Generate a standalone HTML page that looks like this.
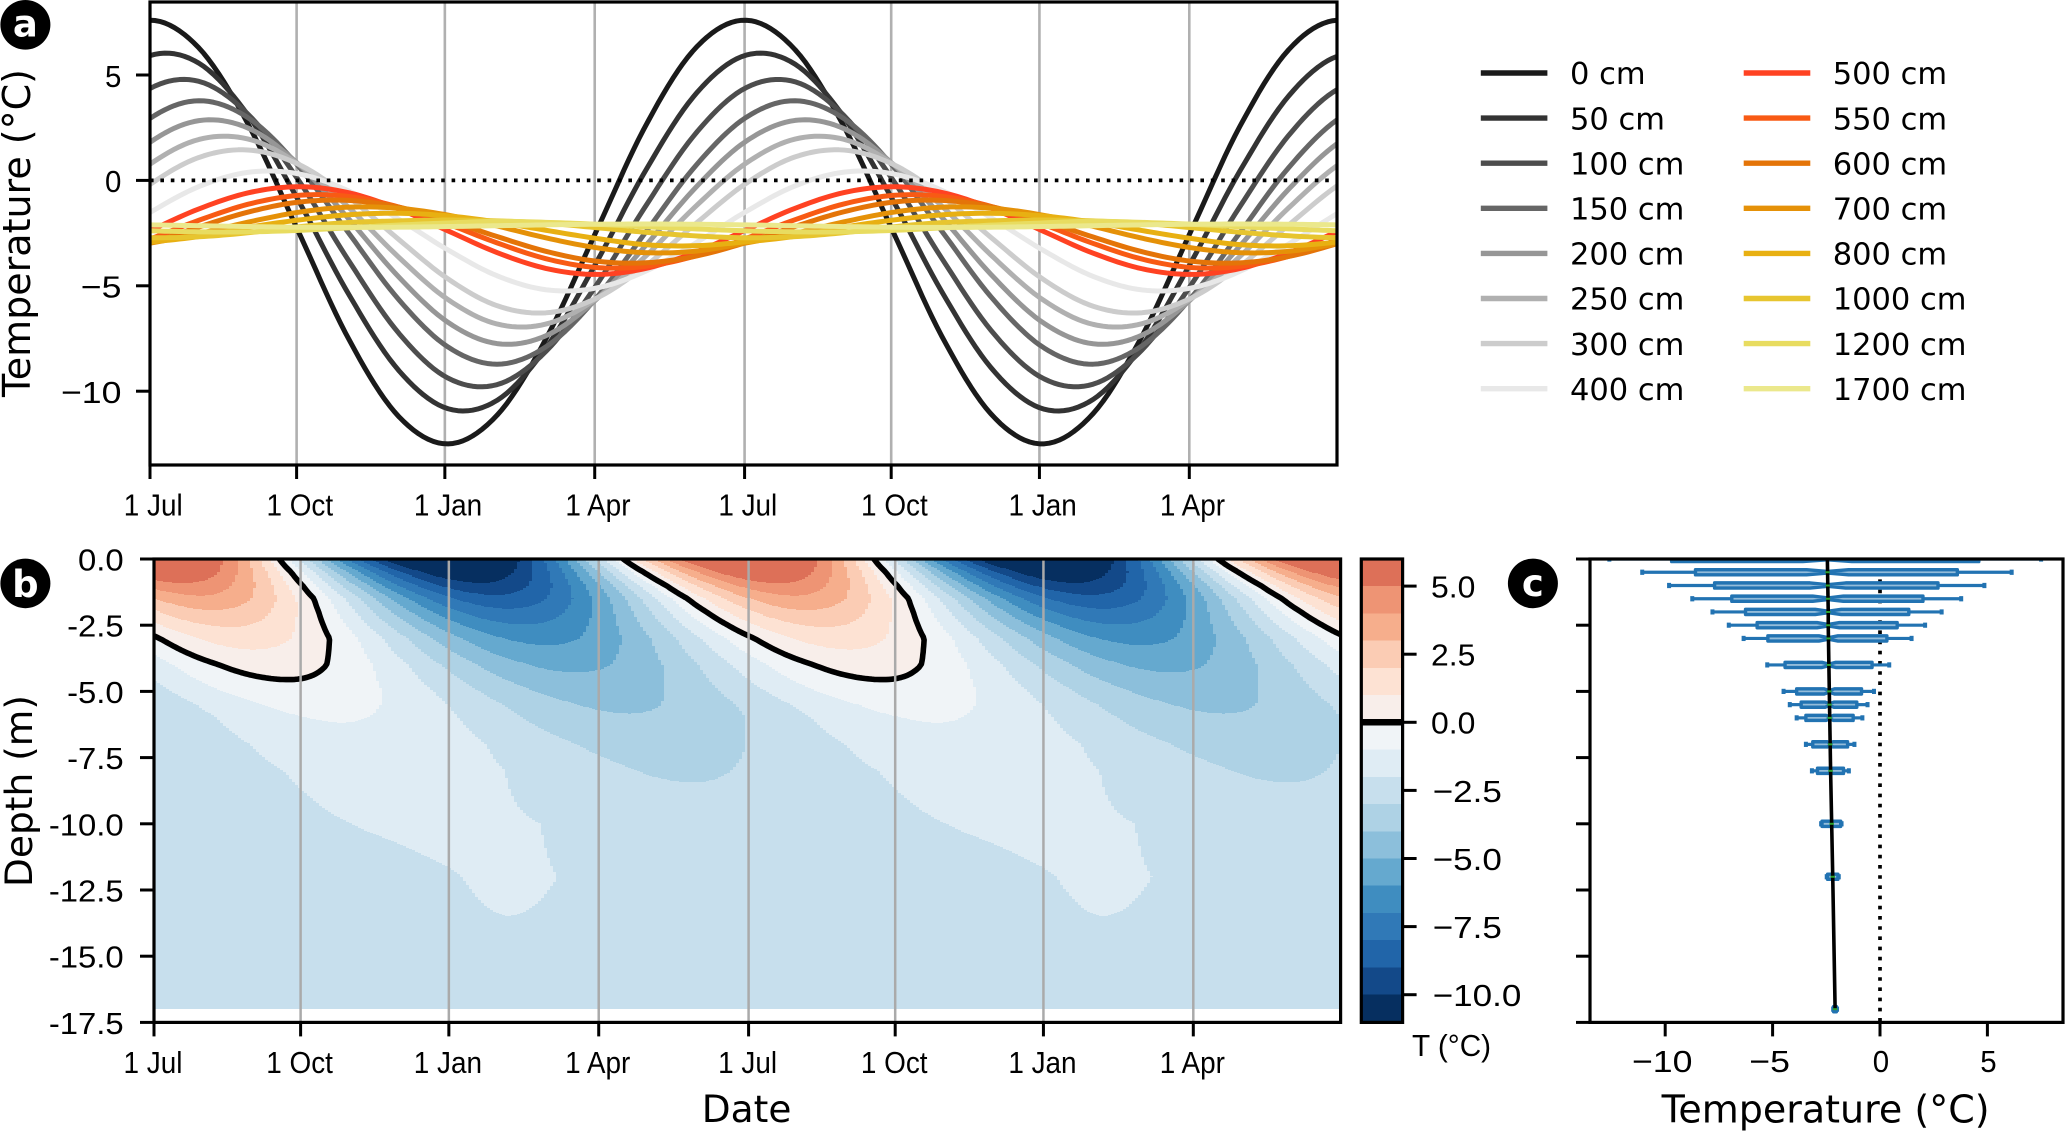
<!DOCTYPE html>
<html lang="en">
<head>
<meta charset="utf-8">
<title>Soil temperature by depth</title>
<style>
html,body{margin:0;padding:0;background:#fff;}
svg{display:block;}
.title{font-family:"DejaVu Sans",sans-serif;font-size:37.5px;fill:#000;}
.title-wide{font-family:"DejaVu Sans",sans-serif;font-size:38px;fill:#000;}
.legend{font-family:"DejaVu Sans",sans-serif;font-size:30.5px;fill:#000;}
.tick{font-family:"Liberation Sans",sans-serif;font-size:31px;fill:#000;}
.badge{font-family:"DejaVu Sans",sans-serif;font-size:37px;font-weight:bold;fill:#fff;text-anchor:middle;}
</style>
</head>
<body>
<svg id="chart" xmlns="http://www.w3.org/2000/svg" width="2067" height="1132" viewBox="0 0 2067 1132">
  <defs>
    <clipPath id="clip-a"><rect x="150" y="2" width="1187" height="463"/></clipPath>
    <clipPath id="clip-b"><rect x="154" y="559" width="1186.6" height="463.4"/></clipPath>
    <clipPath id="clip-c"><rect x="1590" y="559" width="473" height="463.4"/></clipPath>
  </defs>
  <rect x="0" y="0" width="2067" height="1132" fill="#fff"/>

  <g id="panel-a">
    <g id="a-grid"></g>
    <g id="a-lines" clip-path="url(#clip-a)"></g>
    <line id="a-zero" x1="150" x2="1337" stroke="#000" stroke-width="3.7" stroke-dasharray="3.6 6.8"/>
    <g id="a-axes"></g>
    <rect x="150" y="2" width="1187" height="463" fill="none" stroke="#000" stroke-width="3.2"/>
  </g>
  <text class="title-wide" transform="translate(30 233) rotate(-90)" text-anchor="middle">Temperature (°C)</text>
  <g id="legend"></g>

  <g id="panel-b">
    <g id="b-bands" clip-path="url(#clip-b)"></g>
    <path id="b-zero" clip-path="url(#clip-b)" fill="none" stroke="#000" stroke-width="5.6" stroke-linecap="round"/>
    <g id="b-grid"></g>
    <g id="b-axes"></g>
    <rect x="154" y="559" width="1186.6" height="463.4" fill="none" stroke="#000" stroke-width="3.2"/>
  </g>
  <text class="title" transform="translate(32 791) rotate(-90)" text-anchor="middle">Depth (m)</text>
  <text class="title" x="746.6" y="1122" text-anchor="middle">Date</text>

  <g id="colorbar"></g>
  <text class="tick" transform="translate(1412 1056) scale(0.96 1)">T (°C)</text>

  <g id="panel-c">
    <line id="c-zero" y1="559" y2="1022.4" stroke="#000" stroke-width="3.7" stroke-dasharray="3.6 6.6"/>
    <g id="c-boxes" clip-path="url(#clip-c)"></g>
    <path id="c-mean" fill="none" stroke="#000" stroke-width="3.6" clip-path="url(#clip-c)"/>
    <g id="c-medians" clip-path="url(#clip-c)"></g>
    <g id="c-axes"></g>
    <rect x="1590" y="559" width="473" height="463.4" fill="none" stroke="#000" stroke-width="3.2"/>
  </g>
  <text class="title-wide" x="1825.6" y="1122.5" text-anchor="middle">Temperature (°C)</text>

  <ellipse cx="25.4" cy="24.8" rx="25" ry="24.8" fill="#000"/>
  <text class="badge" x="25.4" y="36.5">a</text>
  <ellipse cx="25.4" cy="583.4" rx="25" ry="24.8" fill="#000"/>
  <text class="badge" x="25.4" y="597">b</text>
  <ellipse cx="1532.9" cy="583.4" rx="25" ry="24.8" fill="#000"/>
  <text class="badge" x="1532.9" y="596">c</text>
</svg>

<script>
// ---- Chart data: monthly temperature (°C) across one year from 1 Jul, one array per depth ----
const t0cm    = [7.6,6.25,2.58,-2.45,-7.48,-11.15,-12.5,-11.15,-7.48,-2.45,2.58,6.25];
const t50cm   = [5.92,5.54,3.02,-0.97,-5.36,-8.96,-10.82,-10.44,-7.92,-3.93,0.46,4.06];
const t100cm  = [4.36,4.69,3.09,0,-3.77,-7.19,-9.36,-9.69,-8.09,-5.0,-1.23,2.19];
const t150cm  = [2.94,3.78,2.94,0.66,-2.47,-5.6,-7.88,-8.72,-7.88,-5.6,-2.47,0.66];
const t200cm  = [1.81,2.84,2.46,0.76,-1.8,-4.53,-6.71,-7.74,-7.36,-5.66,-3.1,-0.37];
const t250cm  = [0.77,1.95,1.95,0.77,-1.26,-3.6,-5.63,-6.81,-6.81,-5.63,-3.6,-1.26];
const t300cm  = [-0.19,1.1,1.44,0.76,-0.78,-2.76,-4.65,-5.94,-6.28,-5.6,-4.06,-2.08];
const t400cm  = [-1.52,-0.28,0.39,0.31,-0.49,-1.81,-3.28,-4.52,-5.19,-5.11,-4.31,-2.99];
const t500cm  = [-2.38,-1.34,-0.58,-0.3,-0.58,-1.34,-2.38,-3.42,-4.18,-4.46,-4.18,-3.42];
const t550cm  = [-2.78,-1.88,-1.12,-0.71,-0.76,-1.25,-2.06,-2.96,-3.72,-4.13,-4.08,-3.59];
const t600cm  = [-2.97,-2.2,-1.49,-1.03,-0.95,-1.26,-1.89,-2.66,-3.37,-3.83,-3.91,-3.6];
const t700cm  = [-2.98,-2.52,-1.97,-1.51,-1.27,-1.32,-1.64,-2.16,-2.73,-3.19,-3.43,-3.36];
const t800cm  = [-2.92,-2.66,-2.22,-1.88,-1.63,-1.56,-1.68,-1.97,-2.37,-2.75,-3.05,-3.1];
const t1000cm = [-2.72,-2.67,-2.48,-2.2,-2.0,-1.92,-1.88,-1.92,-2.03,-2.24,-2.46,-2.63];
const t1200cm = [-2.39,-2.44,-2.44,-2.37,-2.25,-2.12,-2.02,-1.94,-1.99,-2.08,-2.2,-2.3];
const t1700cm = [-2.11,-2.15,-2.19,-2.22,-2.23,-2.22,-2.19,-2.15,-2.11,-2.08,-2.07,-2.08];
const allSeries = [t0cm,t50cm,t100cm,t150cm,t200cm,t250cm,t300cm,t400cm,t500cm,t550cm,t600cm,t700cm,t800cm,t1000cm,t1200cm,t1700cm];
const depthsM = [0,0.5,1,1.5,2,2.5,3,4,5,5.5,6,7,8,10,12,17];
const depthLabels = ["0 cm","50 cm","100 cm","150 cm","200 cm","250 cm","300 cm","400 cm","500 cm","550 cm","600 cm","700 cm","800 cm","1000 cm","1200 cm","1700 cm"];
const lineColors = ["#1a1a1a","#333333","#4d4d4d","#666666","#969696","#b0b0b0","#cccccc","#e8e8e8","#ff4222","#f85a14","#e47408","#e59108","#e8b012","#e7c52f","#e8dc60","#ebe88c"];

// Axis ticks
const dateTickDays = [0,90,181,273,365,455,546,638];
const dateTickLabels = ["1 Jul","1 Oct","1 Jan","1 Apr","1 Jul","1 Oct","1 Jan","1 Apr"];
const tempTicksA = [5,0,-5,-10];
const depthTicks = [0,2.5,5,7.5,10,12.5,15,17.5];
const depthTickLabels = ["0.0","-2.5","-5.0","-7.5","-10.0","-12.5","-15.0","-17.5"];
const tempTicksC = [-10,-5,0,5];
const colorbarTicks = [5,2.5,0,-2.5,-5,-7.5,-10];
const colorbarTickLabels = ["5.0","2.5","0.0","−2.5","−5.0","−7.5","−10.0"];

// Contour levels (°C) and the colour of each band, coldest first
const levels = [-11,-10,-9,-8,-7,-6,-5,-4,-3,-2,-1,0,1,2,3,4,5,6];
const bandColors = ["#062f60","#134989","#2165a9","#3079b7","#3f8dc0","#65a9cf","#8cbfdb","#aed2e5","#c7dfed","#dfecf4","#f0f4f7","#f8eeea","#fde2d3","#fbccb4","#f6ae8c","#ee9474","#dd7058"];

// Box plot statistics per depth
const whiskerLow  = [-12.6,-11.07,-9.82,-8.74,-7.8,-7.04,-6.35,-5.25,-4.49,-4.2,-3.88,-3.45,-3.17,-2.74,-2.48,-2.18];
const boxQ1       = [-9.7,-8.59,-7.7,-6.9,-6.26,-5.72,-5.22,-4.42,-3.88,-3.67,-3.45,-3.13,-2.91,-2.7,-2.44,-2.16];
const boxMedian   = [-2.45,-2.44,-2.43,-2.42,-2.41,-2.41,-2.4,-2.38,-2.36,-2.35,-2.34,-2.32,-2.3,-2.25,-2.2,-2.09];
const boxQ3       = [4.6,3.6,2.7,2.0,1.34,0.8,0.32,-0.37,-0.86,-1.08,-1.25,-1.51,-1.7,-1.83,-1.96,-2.03];
const whiskerHigh = [7.5,6.13,4.86,3.78,2.87,2.1,1.47,0.43,-0.28,-0.58,-0.82,-1.19,-1.45,-1.79,-1.92,-2.0];
const meanProfile = [-2.45,-2.44,-2.43,-2.42,-2.41,-2.41,-2.4,-2.38,-2.36,-2.35,-2.34,-2.32,-2.3,-2.25,-2.2,-2.09];

// ---- Axis functions ----
const xA = d => 150 + 1.629 * d;
const yA = t => 180.4 - 21.08 * t;
const xB = d => 154 + 1.629 * d;
const yB = z => 559 + 26.48 * z;
const xC = t => 1880 + 21.48 * t;
const yBar = t => 722.3 - 27.24 * t;

const NS = "http://www.w3.org/2000/svg";
function make(tag, attrs, parent, name) {
  const el = document.createElementNS(NS, tag);
  for (const k in attrs) el.setAttribute(k, attrs[k]);
  
  
  parent.appendChild(el);
  return el;
}
function label(str, x, y, anchor, sx, parent, name) {
  const t = make("text", {class:"tick", transform:`translate(${x} ${y}) scale(${sx} 1)`, "text-anchor":anchor}, parent, name);
  t.textContent = str;
  return t;
}
const $ = id => document.getElementById(id);

// Periodic Catmull-Rom through a year of monthly samples
function tempAt(s, day) {
  const n = s.length, u = day / 365 * n, i = Math.floor(u), f = u - i;
  const g = k => s[((i + k) % n + n) % n];
  const p0 = g(-1), p1 = g(0), p2 = g(1), p3 = g(2);
  return 0.5 * (2*p1 + (p2-p0)*f + (2*p0-5*p1+4*p2-p3)*f*f + (3*p1-p0-3*p2+p3)*f*f*f);
}
function fieldAt(columnTemps, z) {
  let j = 0;
  while (j < depthsM.length - 2 && z > depthsM[j+1]) j++;
  const w = (z - depthsM[j]) / (depthsM[j+1] - depthsM[j]);
  return columnTemps[j] * (1 - w) + columnTemps[j+1] * w;
}

// ---- Panel a ----
dateTickDays.forEach((d, i) => {
  make("line", {x1:xA(d), x2:xA(d), y1:2, y2:465, stroke:"#b0b0b0", "stroke-width":2.6}, $("a-grid"), "panel-a-gridline");
  make("line", {x1:xA(d), x2:xA(d), y1:465, y2:479, stroke:"#000", "stroke-width":3}, $("a-axes"), "panel-a-x-tick");
  label(dateTickLabels[i], xA(d) + 3.2, 515.5, "middle", 0.9, $("a-axes"), "panel-a-x-tick-label");
});
tempTicksA.forEach(t => {
  make("line", {x1:136, x2:150, y1:yA(t), y2:yA(t), stroke:"#000", "stroke-width":3}, $("a-axes"), "panel-a-y-tick");
  label(String(t).replace("-", "−"), 121.4, yA(t) + 11.8, "end", t < 0 ? 1.15 : 0.95, $("a-axes"), "panel-a-y-tick-label");
});
allSeries.forEach((s, i) => {
  let d = "";
  for (let day = 0; day <= 732; day += 3) {
    d += (day ? "L" : "M") + xA(day).toFixed(1) + " " + yA(tempAt(s, day)).toFixed(2);
  }
  make("path", {d:d, fill:"none", stroke:lineColors[i], "stroke-width":5, "stroke-linejoin":"round"}, $("a-lines"), "line-" + depthLabels[i].replace(" ", "-"));
});
$("a-zero").setAttribute("y1", yA(0));
$("a-zero").setAttribute("y2", yA(0));

// ---- Legend ----
depthLabels.forEach((txt, i) => {
  const col = i < 8 ? 0 : 1, row = i % 8;
  const y = 73 + row * 45.1;
  const x0 = col ? 1743.7 : 1480.8;
  const tx = col ? 1832.7 : 1570;
  const g = make("g", {}, $("legend"), "legend-entry");
  make("line", {x1:x0, x2:x0 + 66.6, y1:y, y2:y, stroke:lineColors[i], "stroke-width":5.4}, g, "legend-swatch");
  const t = make("text", {class:"legend", x:tx, y:y + 11.2}, g, "legend-label");
  t.textContent = txt;
});

// ---- Panel b: filled contours from the same depth series ----
const dataBottom = yB(depthsM[depthsM.length - 1]);
const bandPaths = bandColors.map(() => "");
const colStep = 3, rightEdge = 1340.6;
for (let x = 154; x < rightEdge; x += colStep) {
  const day = (x + colStep / 2 - 154) / 1.629;
  const col = allSeries.map(s => tempAt(s, day));
  let runStart = 559, runBand = -1;
  for (let y = 559; y < dataBottom; y += 1) {
    const T = fieldAt(col, (y + 0.5 - 559) / 26.48);
    const b = Math.max(0, Math.min(bandColors.length - 1, Math.floor(T) - levels[0]));
    if (b !== runBand) {
      if (runBand >= 0) bandPaths[runBand] += `M${x} ${runStart}h${colStep}v${y - runStart}h-${colStep}z`;
      runBand = b; runStart = y;
    }
  }
  if (runBand >= 0) bandPaths[runBand] += `M${x} ${runStart}h${colStep}v${Math.round(dataBottom) - runStart}h-${colStep}z`;
}
bandPaths.forEach((d, i) => {
  if (d) make("path", {d:d, fill:bandColors[i], "shape-rendering":"crispEdges"}, $("b-bands"), "contour-band-" + levels[i] + "-to-" + levels[i+1]);
});

// Zero contour by marching squares over the same field
(function () {
  const step = 3, cols = [], xs = [], ys = [];
  for (let y = 559; y <= dataBottom; y += step) ys.push(y);
  for (let x = 154; x <= rightEdge + step; x += step) {
    xs.push(x);
    const day = (x - 154) / 1.629;
    const col = allSeries.map(s => tempAt(s, day));
    cols.push(ys.map(y => fieldAt(col, (y - 559) / 26.48)));
  }
  let d = "";
  for (let i = 0; i < xs.length - 1; i++) {
    for (let j = 0; j < ys.length - 1; j++) {
      const a = cols[i][j], b = cols[i+1][j], c = cols[i+1][j+1], e = cols[i][j+1];
      const pts = [];
      if ((a > 0) !== (b > 0)) pts.push([xs[i] + step * a / (a - b), ys[j]]);
      if ((b > 0) !== (c > 0)) pts.push([xs[i+1], ys[j] + step * b / (b - c)]);
      if ((e > 0) !== (c > 0)) pts.push([xs[i] + step * e / (e - c), ys[j+1]]);
      if ((a > 0) !== (e > 0)) pts.push([xs[i], ys[j] + step * a / (a - e)]);
      for (let k = 0; k + 1 < pts.length; k += 2) {
        d += `M${pts[k][0].toFixed(1)} ${pts[k][1].toFixed(1)}L${pts[k+1][0].toFixed(1)} ${pts[k+1][1].toFixed(1)}`;
      }
    }
  }
  $("b-zero").setAttribute("d", d);
})();

dateTickDays.forEach((d, i) => {
  make("line", {x1:xB(d), x2:xB(d), y1:559, y2:1022.4, stroke:"#aaaaaa", "stroke-width":2.5}, $("b-grid"), "panel-b-gridline");
  make("line", {x1:xB(d), x2:xB(d), y1:1022.4, y2:1036.4, stroke:"#000", "stroke-width":3}, $("b-axes"), "panel-b-x-tick");
  label(dateTickLabels[i], xB(d) - 1, 1073, "middle", 0.9, $("b-axes"), "panel-b-x-tick-label");
});
depthTicks.forEach((z, i) => {
  make("line", {x1:140, x2:154, y1:yB(z), y2:yB(z), stroke:"#000", "stroke-width":3}, $("b-axes"), "panel-b-y-tick");
  label(depthTickLabels[i], 123.7, yB(z) + 11.5, "end", 1.06, $("b-axes"), "panel-b-y-tick-label");
});

// ---- Colorbar ----
bandColors.forEach((c, i) => {
  make("rect", {x:1361.3, width:41.3, y:yBar(levels[i+1]), height:yBar(levels[i]) - yBar(levels[i+1]), fill:c, "shape-rendering":"crispEdges"}, $("colorbar"), "colorbar-band");
});
make("line", {x1:1361.3, x2:1402.6, y1:yBar(0), y2:yBar(0), stroke:"#000", "stroke-width":6.5}, $("colorbar"), "colorbar-zero-line");
make("rect", {x:1361.3, y:559, width:41.3, height:463.4, fill:"none", stroke:"#000", "stroke-width":3.2}, $("colorbar"), "colorbar-frame");
colorbarTicks.forEach((t, i) => {
  make("line", {x1:1402.6, x2:1416.6, y1:yBar(t), y2:yBar(t), stroke:"#000", "stroke-width":3}, $("colorbar"), "colorbar-tick");
  label(colorbarTickLabels[i], t < 0 ? 1432.7 : 1431, yBar(t) + 11.4, "start", t < 0 ? 1.13 : 1.03, $("colorbar"), "colorbar-tick-label");
});

// ---- Panel c ----
$("c-zero").setAttribute("x1", xC(0));
$("c-zero").setAttribute("x2", xC(0));
depthsM.forEach((z, i) => {
  const y = yB(z), blue = "#2273b2", h = 2.6;
  const g = make("g", {}, $("c-boxes"), "box-" + depthLabels[i].replace(" ", "-"));
  make("line", {x1:xC(whiskerLow[i]), x2:xC(boxQ1[i]), y1:y, y2:y, stroke:blue, "stroke-width":3.2}, g, "whisker-low");
  make("line", {x1:xC(boxQ3[i]), x2:xC(whiskerHigh[i]), y1:y, y2:y, stroke:blue, "stroke-width":3.2}, g, "whisker-high");
  make("line", {x1:xC(whiskerLow[i]), x2:xC(whiskerLow[i]), y1:y - 2.6, y2:y + 2.6, stroke:blue, "stroke-width":4}, g, "cap-low");
  make("line", {x1:xC(whiskerHigh[i]), x2:xC(whiskerHigh[i]), y1:y - 2.6, y2:y + 2.6, stroke:blue, "stroke-width":4}, g, "cap-high");
  const q1 = xC(boxQ1[i]), q3 = xC(boxQ3[i]), m = xC(boxMedian[i]);
  const n = 0.08 * (q3 - q1);
  const d = `M${q1} ${y-h}L${m-n} ${y-h}L${m} ${y-h*0.3}L${m+n} ${y-h}L${q3} ${y-h}L${q3} ${y+h}L${m+n} ${y+h}L${m} ${y+h*0.3}L${m-n} ${y+h}L${q1} ${y+h}Z`;
  make("path", {d:d, fill:"#93bcda", stroke:blue, "stroke-width":3.4, "stroke-linejoin":"round"}, g, "box-body");
  make("line", {x1:m - 2.2, x2:m + 2.2, y1:y, y2:y, stroke:"#2ca02c", "stroke-width":2}, $("c-medians"), "median-mark");
});
$("c-mean").setAttribute("d", meanProfile.map((t, i) => (i ? "L" : "M") + xC(t).toFixed(2) + " " + yB(depthsM[i]).toFixed(2)).join(""));
tempTicksC.forEach(t => {
  make("line", {x1:xC(t), x2:xC(t), y1:1022.4, y2:1036.4, stroke:"#000", "stroke-width":3}, $("c-axes"), "panel-c-x-tick");
  label(String(t).replace("-", "−"), xC(t) - (t < 0 ? 3 : -1), 1072, "middle", t < 0 ? 1.15 : 0.95, $("c-axes"), "panel-c-x-tick-label");
});
depthTicks.forEach(z => {
  make("line", {x1:1576, x2:1590, y1:yB(z), y2:yB(z), stroke:"#000", "stroke-width":3}, $("c-axes"), "panel-c-y-tick");
});
</script>
</body>
</html>
